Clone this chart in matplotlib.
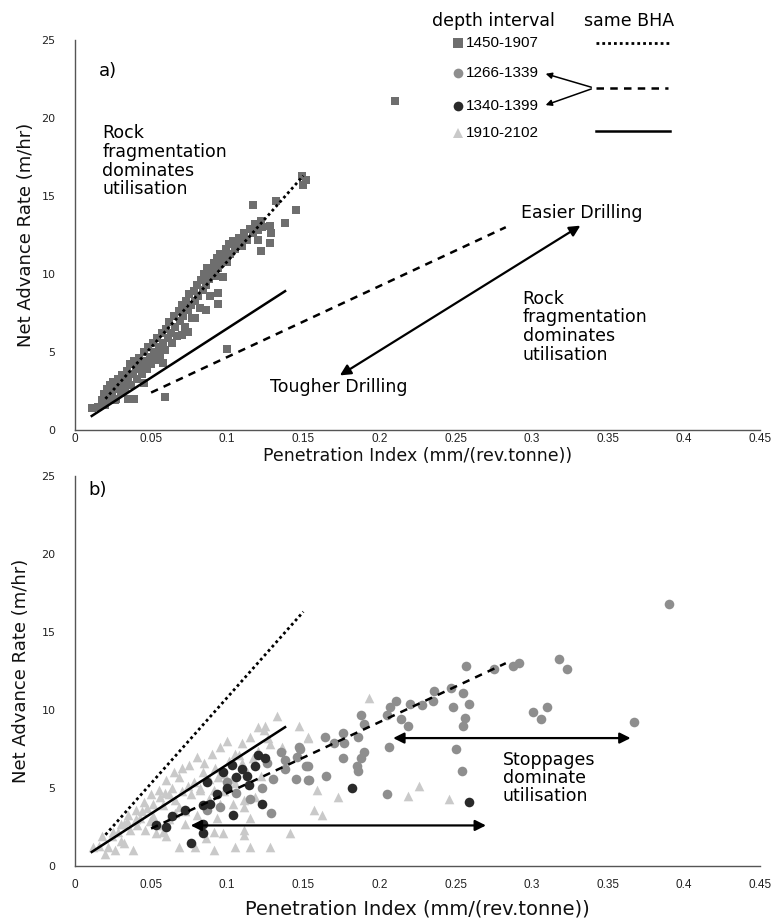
import numpy as np
import matplotlib
matplotlib.use('Agg')
import matplotlib.pyplot as plt
from matplotlib.lines import Line2D
from matplotlib.patches import FancyArrowPatch

# ---- data ----
# panel a: depth 1450-1907 (squares)
sq_x = [0.015, 0.018, 0.019, 0.020, 0.021, 0.022, 0.023, 0.024, 0.025, 0.026, 0.027, 0.028,
        0.029, 0.030, 0.031, 0.032, 0.033, 0.034, 0.035, 0.036, 0.037, 0.038, 0.039, 0.040,
        0.041, 0.042, 0.043, 0.044, 0.045, 0.046, 0.047, 0.048, 0.049, 0.050, 0.051, 0.052,
        0.053, 0.054, 0.055, 0.056, 0.057, 0.058, 0.059, 0.060, 0.061, 0.062, 0.063, 0.064,
        0.065, 0.066, 0.067, 0.068, 0.069, 0.070, 0.071, 0.072, 0.073, 0.074, 0.075, 0.076,
        0.077, 0.078, 0.079, 0.080, 0.081, 0.082, 0.083, 0.084, 0.085, 0.086, 0.087, 0.088,
        0.089, 0.090, 0.091, 0.092, 0.093, 0.094, 0.095, 0.096, 0.097, 0.098, 0.099, 0.100,
        0.101, 0.102, 0.104, 0.105, 0.107, 0.108, 0.110, 0.111, 0.113, 0.115, 0.117, 0.118,
        0.120, 0.122, 0.123, 0.128, 0.129, 0.132, 0.138, 0.145, 0.149, 0.150, 0.152, 0.117,
        0.120, 0.122, 0.128,
        0.026, 0.035, 0.039, 0.045, 0.059, 0.058, 0.070, 0.074, 0.079, 0.094, 0.094, 0.100,
        0.086, 0.011, 0.210]
sq_y = [1.5, 1.9, 2.3, 1.6, 2.6, 2.0, 2.9, 2.3, 3.1, 2.6, 2.0, 3.3,
        2.8, 2.4, 3.5, 3.0, 2.6, 3.8, 3.3, 4.2, 2.9, 3.6, 4.4, 3.9,
        3.3, 4.6, 4.1, 3.6, 5.0, 4.4, 3.9, 5.3, 4.7, 4.2, 5.6, 5.0,
        4.5, 5.9, 5.3, 4.8, 6.2, 5.6, 5.1, 6.5, 5.9, 6.9, 6.2, 5.6,
        7.3, 6.6, 6.0, 7.6, 7.0, 8.0, 7.3, 6.6, 8.3, 7.7, 8.7, 8.0,
        7.2, 8.9, 8.3, 9.3, 8.6, 7.8, 9.6, 9.0, 10.0, 9.3, 10.4, 9.7,
        8.6, 10.2, 10.7, 9.9, 11.0, 10.4, 11.3, 10.7, 9.8, 11.1, 11.6, 10.8,
        11.9, 11.3, 12.1, 11.6, 11.9, 12.3, 11.8, 12.6, 12.2, 12.9, 12.6, 13.2,
        12.8, 13.4, 13.0, 13.1, 12.6, 14.7, 13.3, 14.1, 16.3, 15.7, 16.0, 14.4,
        12.2, 11.5, 12.0,
        1.9, 2.0, 2.0, 3.0, 2.1, 4.3, 6.1, 6.3, 7.2, 8.1, 8.8, 5.2,
        7.7, 1.4, 21.1]

# panel b: depth 1266-1339 (mid-grey circles)
c1_x = [0.257, 0.275, 0.288, 0.292, 0.318, 0.323, 0.367, 0.301, 0.310, 0.306, 0.255, 0.259,
        0.256, 0.255, 0.248, 0.250, 0.254, 0.247, 0.236, 0.235, 0.228, 0.220, 0.219, 0.214,
        0.211, 0.207, 0.205, 0.206, 0.205, 0.188, 0.190, 0.186, 0.190, 0.188, 0.185, 0.186,
        0.176, 0.177, 0.176, 0.164, 0.170, 0.153, 0.154, 0.165, 0.148, 0.390,
        0.147, 0.138, 0.152, 0.145, 0.153, 0.138, 0.130, 0.123, 0.129, 0.106, 0.126,
        0.087, 0.146, 0.115, 0.095, 0.100, 0.135]
c1_y = [12.8, 12.6, 12.8, 13.0, 13.3, 12.6, 9.2, 9.9, 10.2, 9.4, 11.1, 10.4,
        9.5, 9.0, 10.2, 7.5, 6.1, 11.4, 11.2, 10.6, 10.3, 10.4, 9.0, 9.4,
        10.6, 10.2, 9.7, 7.6, 4.6, 9.7, 9.1, 8.3, 7.3, 6.9, 6.4, 6.1,
        8.5, 7.9, 6.9, 8.3, 7.9, 6.4, 5.5, 5.8, 7.5, 16.8,
        7.6, 6.8, 6.4, 5.6, 5.5, 6.2, 5.6, 5.0, 3.4, 4.7, 6.6,
        3.6, 7.0, 4.3, 3.8, 5.4, 7.3]

# panel b: depth 1340-1399 (dark circles)
c2_x = [0.120, 0.125, 0.118, 0.113, 0.106, 0.103, 0.097, 0.123, 0.104, 0.087, 0.084, 0.114,
        0.076, 0.060, 0.053, 0.064, 0.084, 0.084, 0.089, 0.182, 0.259, 0.110, 0.072,
        0.093, 0.100]
c2_y = [7.1, 6.9, 6.4, 5.8, 5.7, 6.5, 6.0, 4.0, 3.3, 5.4, 2.1, 5.2,
        1.5, 2.5, 2.6, 3.2, 2.7, 3.9, 4.0, 5.0, 4.1, 6.2, 3.6,
        4.6, 5.0]

# panel b: depth 1910-2102 (light triangles)
tr_x = [0.193, 0.153, 0.159, 0.173, 0.157, 0.162, 0.219, 0.226, 0.246,
        0.133, 0.147, 0.124, 0.153, 0.136, 0.128, 0.110, 0.101, 0.094, 0.117, 0.141,
        0.111, 0.118, 0.104, 0.111, 0.115, 0.111, 0.111, 0.097, 0.091, 0.093, 0.091,
        0.105, 0.115, 0.128, 0.095, 0.091,
        0.012, 0.016, 0.022, 0.020, 0.026, 0.018, 0.024, 0.032, 0.032, 0.036, 0.038,
        0.041, 0.046, 0.051, 0.051, 0.058, 0.064, 0.066, 0.055, 0.068, 0.072, 0.074,
        0.068, 0.084, 0.059, 0.044, 0.053, 0.060, 0.072, 0.079,
        0.028, 0.034, 0.040, 0.047, 0.056, 0.062, 0.070, 0.078, 0.082, 0.088, 0.092,
        0.098, 0.105, 0.120, 0.127, 0.080, 0.086, 0.066, 0.049, 0.043, 0.030, 0.108,
        0.060, 0.065, 0.070, 0.075, 0.080, 0.085, 0.090, 0.095, 0.100, 0.105, 0.110,
        0.115, 0.120, 0.125, 0.050, 0.055, 0.045, 0.040, 0.035, 0.030, 0.025, 0.082,
        0.088, 0.098, 0.103, 0.113, 0.122, 0.076, 0.068, 0.062, 0.058]
tr_y = [10.8, 8.2, 4.9, 4.4, 3.6, 3.3, 4.5, 5.1, 4.3,
        9.6, 9.0, 8.7, 8.3, 7.6, 7.8, 6.6, 6.7, 5.7, 6.9, 2.1,
        4.2, 4.4, 4.0, 3.8, 3.1, 2.3, 2.0, 2.1, 2.2, 3.1, 1.0,
        1.2, 1.2, 1.2, 4.0, 4.9,
        1.2, 1.3, 1.2, 0.8, 1.0, 1.9, 1.9, 1.5, 2.7, 2.3, 1.0,
        2.6, 2.3, 3.2, 4.0, 3.9, 5.0, 4.2, 2.6, 1.2, 3.5, 5.1,
        5.7, 6.0, 4.7, 3.5, 2.1, 1.9, 2.7, 1.2,
        2.2, 2.9, 3.0, 3.7, 4.4, 4.6, 4.8, 5.4, 4.9, 5.6, 6.3,
        5.9, 5.3, 7.4, 8.2, 3.3, 1.8, 3.4, 2.9, 3.1, 1.6, 7.1,
        5.5, 6.0, 6.3, 6.5, 7.0, 6.6, 7.2, 7.6, 8.0, 7.2, 7.9,
        8.3, 8.9, 9.0, 4.6, 4.9, 4.1, 3.6, 3.3, 2.7, 2.2, 5.0,
        4.3, 4.8, 5.6, 6.0, 5.8, 4.6, 3.8, 3.0, 2.2]

# same-BHA trend lines (start, end)
dot_x, dot_y = [0.02, 0.15], [2.0, 16.3]
dash_x, dash_y = [0.05, 0.283], [2.4, 13.0]
solid_x, solid_y = [0.011, 0.138], [0.9, 8.9]

x_ticks = [0, 0.05, 0.1, 0.15, 0.2, 0.25, 0.3, 0.35, 0.4, 0.45]
x_tick_labels = ['0', '0.05', '0.1', '0.15', '0.2', '0.25', '0.3', '0.35', '0.4', '0.45']
y_ticks = [0, 5, 10, 15, 20, 25]

SQ_C = '#6e6e6e'
C1_C = '#8e8e8e'
C2_C = '#2a2a2a'
TR_C = '#c9c9c9'
SPINE_C = '#555555'
NARROW = ['Liberation Sans Narrow', 'Liberation Sans', 'DejaVu Sans']

W, H = 777, 924
fig = plt.figure(figsize=(W / 100, H / 100), dpi=100)
fig.patch.set_facecolor('white')


def fx(px):
    return px / W


def fy(py):
    return 1 - py / H


def style_axes(ax, xpad, xlabel_size, xlabel_y, ylabel_x):
    ax.set_xlim(0, 0.45)
    ax.set_ylim(0, 25)
    ax.set_xticks(x_ticks)
    ax.set_xticklabels(x_tick_labels, family=NARROW, fontsize=8.5)
    ax.set_yticks(y_ticks)
    for lab in ax.get_yticklabels():
        lab.set_fontsize(8)
    ax.tick_params(axis='both', length=0, colors='#222222')
    ax.tick_params(axis='x', pad=xpad)
    ax.tick_params(axis='y', pad=14)
    for s in ['top', 'right']:
        ax.spines[s].set_visible(False)
    for s in ['left', 'bottom']:
        ax.spines[s].set_color(SPINE_C)
        ax.spines[s].set_linewidth(1.0)
    ax.set_xlabel('Penetration Index (mm/(rev.tonne))', fontsize=xlabel_size, color='#111111')
    ax.set_ylabel('Net Advance Rate (m/hr)', fontsize=13, color='#111111')
    ax.xaxis.set_label_coords(0.5, xlabel_y)
    ax.yaxis.set_label_coords(ylabel_x, 0.5)


def trend_lines(ax):
    ax.plot(dot_x, dot_y, color='black', lw=2.0, ls=(0, (1, 1.1)), zorder=4)
    ax.plot(dash_x, dash_y, color='black', lw=1.8, ls=(0, (3, 2.5)), zorder=4)
    ax.plot(solid_x, solid_y, color='black', lw=1.8, zorder=4)


def double_arrow(ax, p0, p1, lw=1.6):
    ax.annotate('', xy=p1, xytext=p0,
                arrowprops=dict(arrowstyle='<|-|>', color='black', lw=lw,
                                mutation_scale=16, shrinkA=0, shrinkB=0), zorder=5)


# ---------------- panel a ----------------
ax_a = fig.add_axes([fx(75), fy(430), fx(760) - fx(75), fy(40) - fy(430)])
style_axes(ax_a, xpad=2, xlabel_size=12.5, xlabel_y=-0.043, ylabel_x=-0.058)
ax_a.scatter(sq_x, sq_y, marker='s', s=36, color=SQ_C, linewidths=0, zorder=3)
trend_lines(ax_a)
double_arrow(ax_a, (0.174, 3.5), (0.332, 13.1))

ax_a.text(0.016, 23.0, 'a)', fontsize=13, va='center', ha='left')
ax_a.text(0.018, 19.6, 'Rock\nfragmentation\ndominates\nutilisation', fontsize=12.5,
          va='top', ha='left', linespacing=1.05)
ax_a.text(0.293, 13.9, 'Easier Drilling', fontsize=12.5, va='center', ha='left')
ax_a.text(0.128, 2.75, 'Tougher Drilling', fontsize=12.5, va='center', ha='left')
ax_a.text(0.294, 9.0, 'Rock\nfragmentation\ndominates\nutilisation', fontsize=12.5,
          va='top', ha='left', linespacing=1.05)

# ---------------- panel b ----------------
ax_b = fig.add_axes([fx(75), fy(866), fx(760) - fx(75), fy(476) - fy(866)])
style_axes(ax_b, xpad=9, xlabel_size=14, xlabel_y=-0.085, ylabel_x=-0.066)
ax_b.scatter(tr_x, tr_y, marker='^', s=48, color=TR_C, linewidths=0, zorder=2)
ax_b.scatter(c1_x, c1_y, marker='o', s=48, color=C1_C, linewidths=0, zorder=3)
ax_b.scatter(c2_x, c2_y, marker='o', s=48, color=C2_C, linewidths=0, zorder=3)
trend_lines(ax_b)
double_arrow(ax_b, (0.209, 8.2), (0.365, 8.2))
double_arrow(ax_b, (0.076, 2.6), (0.270, 2.6))

ax_b.text(0.009, 24.1, 'b)', fontsize=13, va='center', ha='left')
ax_b.text(0.281, 7.4, 'Stoppages\ndominate\nutilisation', fontsize=12.5,
          va='top', ha='left', linespacing=1.0)

# ---------------- legend (figure coords) ----------------
fig.text(fx(432), fy(21), 'depth interval', fontsize=12.5, va='center', ha='left')
fig.text(fx(584), fy(21), 'same BHA', fontsize=12.5, va='center', ha='left')

leg_items = [('s', SQ_C, '1450-1907', 43, 6.5),
             ('o', C1_C, '1266-1339', 73, 7),
             ('o', C2_C, '1340-1399', 106, 7),
             ('^', TR_C, '1910-2102', 133, 7)]
for mk, col, lab, py, ms in leg_items:
    fig.add_artist(Line2D([fx(458)], [fy(py)], marker=mk, color=col, ms=ms, mew=0, ls='none'))
    fig.text(fx(466), fy(py), lab, fontsize=11, va='center', ha='left', family=NARROW)

fig.add_artist(Line2D([fx(596), fx(670)], [fy(43), fy(43)], color='black', lw=2.0, ls=(0, (1, 1.1))))
fig.add_artist(Line2D([fx(596), fx(668)], [fy(88), fy(88)], color='black', lw=1.8, ls=(0, (3, 2.5))))
fig.add_artist(Line2D([fx(596), fx(670)], [fy(131), fy(131)], color='black', lw=1.8))
for ty in (73, 106):
    fig.add_artist(FancyArrowPatch(
        (fx(594), fy(88)), (fx(543), fy(ty)), transform=fig.transFigure,
        arrowstyle='-|>', mutation_scale=9, lw=1.1, color='black'))

fig.savefig('out.png', dpi=100, facecolor='white')
